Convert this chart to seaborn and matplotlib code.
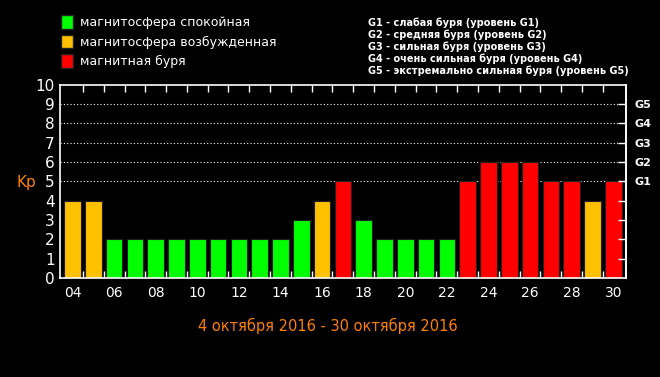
import matplotlib
matplotlib.use('Agg')
import matplotlib.pyplot as plt
from matplotlib.patches import Patch
import pandas as pd
import seaborn as sns

days = ['04', '05', '06', '07', '08', '09', '10', '11', '12', '13', '14', '15', '16', '17',
        '18', '19', '20', '21', '22', '23', '24', '25', '26', '27', '28', '29', '30']
kp = [4, 4, 2, 2, 2, 2, 2, 2, 2, 2, 2, 3, 4, 5, 3, 2, 2, 2, 2, 5, 6, 6, 6, 5, 5, 4, 5]
states = ['магнитосфера спокойная', 'магнитосфера возбужденная', 'магнитная буря']
state_colors = ['#00ff00', '#ffc000', '#ff0000']
g_levels = [5, 6, 7, 8, 9]
g_labels = ['G1', 'G2', 'G3', 'G4', 'G5']
g_notes = ['G1 - слабая буря (уровень G1)',
           'G2 - средняя буря (уровень G2)',
           'G3 - сильная буря (уровень G3)',
           'G4 - очень сильная буря (уровень G4)',
           'G5 - экстремально сильная буря (уровень G5)']
period = '4 октября 2016 - 30 октября 2016'


def state_of(v):
    if v >= 5:
        return states[2]
    if v == 4:
        return states[1]
    return states[0]


df = pd.DataFrame({'day': days, 'kp': kp})
df['state'] = df['kp'].map(state_of)

sns.set_style('ticks')
plt.rcParams['font.family'] = ['DejaVu Sans']
plt.rcParams['axes.axisbelow'] = False
fig = plt.figure(figsize=(6.6, 3.77), dpi=100, facecolor='black')
ax = fig.add_axes([0.091, 0.263, 0.857, 0.512])
ax.set_facecolor('black')

sns.barplot(data=df, x='day', y='kp', hue='state', hue_order=states,
            palette=dict(zip(states, state_colors)), saturation=1, dodge=False,
            width=0.8, linewidth=0.8, edgecolor='#202020', legend=False, ax=ax)

ax.set_xlim(-0.6, len(days) - 0.4)
ax.set_ylim(0, 10)
# dotted storm-level lines behind the bars
for g in g_levels:
    ax.axhline(g, color='white', linestyle=(0, (1, 2)), linewidth=0.8, zorder=0)

ax.set_xticks(range(0, len(days), 2))
ax.set_xticklabels(days[::2], color='white', fontsize=10)
# small ticks between the bars, top and bottom
ax.set_xticks([i + 0.5 for i in range(len(days) - 1)], minor=True)
ax.tick_params(axis='x', which='major', length=0, pad=6)
ax.tick_params(axis='x', which='minor', direction='in', length=5, width=1,
               top=True, bottom=True, color='white')
ax.set_yticks(range(0, 11))
ax.set_yticklabels([str(i) for i in range(11)], color='white', fontsize=11)
ax.tick_params(axis='y', length=0, pad=4)
ax.set_xlabel('')
ax.set_ylabel('')

for s in ax.spines.values():
    s.set_visible(True)
    s.set_color('white')
    s.set_linewidth(1.2)

# storm levels on the right
ax2 = ax.twinx()
ax2.set_ylim(0, 10)
ax2.set_yticks(range(1, 10))
ax2.set_yticklabels(['' if i not in g_levels else g_labels[g_levels.index(i)]
                     for i in range(1, 10)], color='white', fontsize=8,
                    fontweight='bold')
ax2.tick_params(axis='y', direction='in', length=6, width=1, pad=6, color='white')
ax2.spines['right'].set_color('white')
ax2.spines['right'].set_linewidth(1.2)
for s in ['top', 'bottom', 'left']:
    ax2.spines[s].set_visible(False)

fig.text(0.04, 0.515, 'Kp', color='#ff8000', fontsize=11, ha='center', va='center')
fig.text(0.497, 0.135, period, color='#ff8000', fontsize=10.5, ha='center', va='center')

handles = [Patch(facecolor=c, edgecolor='#222222') for c in state_colors]
fig.legend(handles, states, loc='upper left', bbox_to_anchor=(0.075, 0.99),
           frameon=False, fontsize=9, labelcolor='white', handlelength=1.0,
           handleheight=1.3, handletextpad=0.5, labelspacing=0.45)

for i, note in enumerate(g_notes):
    fig.text(0.558, 0.94 - i * 0.032, note, color='white', fontsize=7,
             fontweight='bold', ha='left', va='center')

fig.savefig('out.png', dpi=100, facecolor='black')
plt.close(fig)
